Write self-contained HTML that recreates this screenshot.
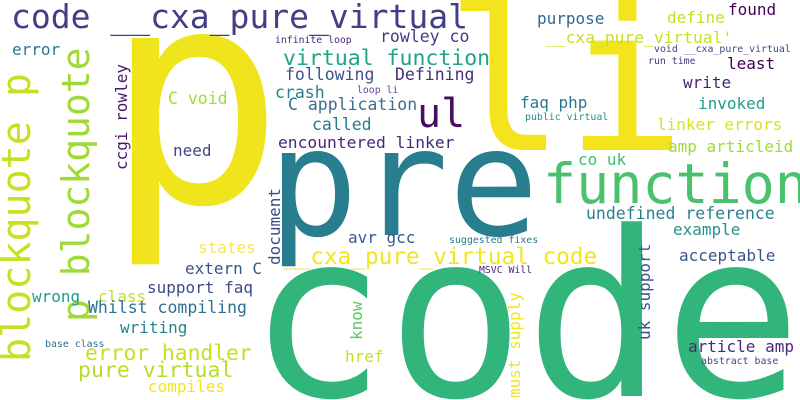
<!DOCTYPE html>
<html><head><meta charset="utf-8"><style>
html,body{margin:0;padding:0;background:#fff;overflow:hidden;width:800px;height:400px}
svg{display:block;overflow:hidden}
text{font-family:"DejaVu Sans Mono","Liberation Mono",monospace}
</style></head><body>
<svg width="800" height="400" viewBox="0 0 800 400" xmlns="http://www.w3.org/2000/svg">
<rect width="800" height="400" fill="#fff"/>
<text x="104" y="202" font-size="300" fill="#f0e51c">p</text>
<text x="445" y="150" font-size="200" fill="#f3e41d">li</text>
<text x="248" y="396" font-size="230" fill="#31b57b">code</text>
<text x="268" y="235" font-size="150" fill="#287d8e">pre</text>
<text x="543" y="203" font-size="55" fill="#4ac16d">function</text>
<text x="11" y="28" font-size="33" fill="#433e85">code __cxa_pure_virtual</text>
<text x="417" y="127" font-size="40" fill="#470d60">ul</text>
<text transform="translate(30,362) rotate(-90)" font-size="40" fill="#c8e020">blockquote p</text>
<text transform="translate(89,322) rotate(-90)" font-size="38" fill="#a0da39">p blockquote</text>
<text transform="translate(127,170) rotate(-90)" font-size="16" fill="#48186a">ccgi rowley</text>
<text transform="translate(280,265) rotate(-90)" font-size="16" fill="#3e4a89">document</text>
<text transform="translate(650,340) rotate(-90)" font-size="16" fill="#3b528b">uk support</text>
<text transform="translate(520,398) rotate(-90)" font-size="16" fill="#f1e51d">must supply</text>
<text transform="translate(362,340) rotate(-90)" font-size="16" fill="#5ec962">know</text>
<text x="283" y="65" font-size="21.5" fill="#20a486">virtual function</text>
<text x="380" y="42" font-size="16.5" fill="#443a83">rowley co</text>
<text x="275" y="43" font-size="9.8" fill="#482878">infinite loop</text>
<text x="285" y="80" font-size="16.5" fill="#3b528b">following</text>
<text x="395" y="80" font-size="16.5" fill="#472d7b">Defining</text>
<text x="275" y="98" font-size="16.5" fill="#26828e">crash</text>
<text x="357" y="93" font-size="9.8" fill="#6a3d9a">loop li</text>
<text x="288" y="110" font-size="16.5" fill="#3e6f8e">C application</text>
<text x="312" y="130" font-size="16.5" fill="#2a788e">called</text>
<text x="278" y="148" font-size="16.3" fill="#482878">encountered linker</text>
<text x="173" y="156" font-size="16" fill="#404688">need</text>
<text x="168" y="104" font-size="16.5" fill="#a5db36">C void</text>
<text x="12" y="55" font-size="16" fill="#2a788e">error</text>
<text x="537" y="24" font-size="16" fill="#31688e">purpose</text>
<text x="667" y="23" font-size="16" fill="#c2df23">define</text>
<text x="728" y="15" font-size="16" fill="#440154">found</text>
<text x="546" y="43" font-size="16.3" fill="#c8e020">__cxa_pure_virtual'</text>
<text x="654" y="52" font-size="9.9" fill="#3e4a89">void __cxa_pure_virtual</text>
<text x="648" y="64" font-size="9.9" fill="#453781">run time</text>
<text x="727" y="69" font-size="16" fill="#440154">least</text>
<text x="683" y="88" font-size="16" fill="#482475">write</text>
<text x="520" y="108" font-size="16" fill="#2a788e">faq php</text>
<text x="525" y="120" font-size="9.9" fill="#21918c">public virtual</text>
<text x="698" y="109" font-size="16" fill="#1f9e89">invoked</text>
<text x="657" y="130" font-size="16" fill="#d8e219">linker errors</text>
<text x="668" y="152" font-size="16" fill="#a0da39">amp articleid</text>
<text x="578" y="165" font-size="16" fill="#3fbc73">co uk</text>
<text x="586" y="219" font-size="16.5" fill="#26828e">undefined reference</text>
<text x="673" y="235" font-size="16" fill="#2a8f8c">example</text>
<text x="679" y="261" font-size="16" fill="#3b528b">acceptable</text>
<text x="688" y="352" font-size="16" fill="#482878">article amp</text>
<text x="701" y="364" font-size="9.9" fill="#3e4a89">abstract base</text>
<text x="479" y="273" font-size="9.8" fill="#482475">MSVC Will</text>
<text x="449" y="243" font-size="9.9" fill="#2a788e">suggested fixes</text>
<text x="283" y="264" font-size="22.7" fill="#f1e51d">__cxa_pure_virtual code</text>
<text x="348" y="243" font-size="16" fill="#38598c">avr gcc</text>
<text x="198" y="253" font-size="16" fill="#f4e55c">states</text>
<text x="185" y="274" font-size="16" fill="#3b528b">extern C</text>
<text x="147" y="293" font-size="16" fill="#3e4a89">support faq</text>
<text x="98" y="302" font-size="16" fill="#c2df23">class</text>
<text x="32" y="302" font-size="16" fill="#1f9e89">wrong</text>
<text x="88" y="313" font-size="16.5" fill="#2c728e">Whilst compiling</text>
<text x="120" y="333" font-size="16" fill="#25858e">writing</text>
<text x="45" y="347" font-size="9.9" fill="#2d708e">base class</text>
<text x="85" y="360" font-size="21.3" fill="#c8e020">error handler</text>
<text x="78" y="377" font-size="21.5" fill="#b5de2b">pure virtual</text>
<text x="148" y="392" font-size="16" fill="#f1e51d">compiles</text>
<text x="345" y="362" font-size="16" fill="#c2df23">href</text>
</svg>
</body></html>
